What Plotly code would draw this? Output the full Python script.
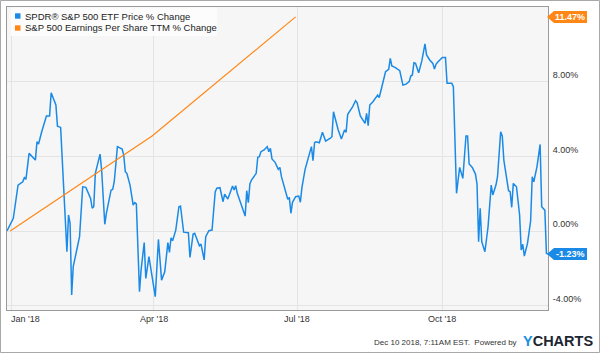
import plotly.graph_objects as go

# ---------------- data ----------------
price_dates = [
    "2017-12-29", "2018-01-02", "2018-01-05", "2018-01-08", "2018-01-09", "2018-01-10", "2018-01-12",
    "2018-01-16", "2018-01-17", "2018-01-18", "2018-01-20", "2018-01-23", "2018-01-25", "2018-01-26",
    "2018-01-29", "2018-01-30", "2018-02-01", "2018-02-03", "2018-02-05", "2018-02-06", "2018-02-07",
    "2018-02-08", "2018-02-09", "2018-02-13", "2018-02-15", "2018-02-17", "2018-02-20", "2018-02-21",
    "2018-02-22", "2018-02-23", "2018-02-26", "2018-02-27", "2018-03-01", "2018-03-02", "2018-03-05",
    "2018-03-06", "2018-03-07", "2018-03-09", "2018-03-12", "2018-03-13", "2018-03-14", "2018-03-15",
    "2018-03-17", "2018-03-19", "2018-03-20", "2018-03-21", "2018-03-23", "2018-03-24", "2018-03-26",
    "2018-03-27", "2018-03-29", "2018-04-02", "2018-04-04", "2018-04-06", "2018-04-08", "2018-04-10",
    "2018-04-11", "2018-04-12", "2018-04-13", "2018-04-15", "2018-04-17", "2018-04-18", "2018-04-20",
    "2018-04-23", "2018-04-24", "2018-04-26", "2018-04-27", "2018-04-30", "2018-05-01", "2018-05-03",
    "2018-05-04", "2018-05-06", "2018-05-08", "2018-05-10", "2018-05-11", "2018-05-13", "2018-05-15",
    "2018-05-16", "2018-05-18", "2018-05-21", "2018-05-22", "2018-05-23", "2018-05-24", "2018-05-29",
    "2018-05-30", "2018-05-31", "2018-06-01", "2018-06-02", "2018-06-05", "2018-06-06", "2018-06-07",
    "2018-06-08", "2018-06-10", "2018-06-12", "2018-06-13", "2018-06-14", "2018-06-15", "2018-06-17",
    "2018-06-19", "2018-06-20", "2018-06-21", "2018-06-25", "2018-06-26", "2018-06-27", "2018-06-28",
    "2018-06-30", "2018-07-02", "2018-07-03", "2018-07-04", "2018-07-06", "2018-07-09", "2018-07-10",
    "2018-07-11", "2018-07-12", "2018-07-13", "2018-07-15", "2018-07-17", "2018-07-19", "2018-07-22",
    "2018-07-23", "2018-07-24", "2018-07-27", "2018-07-29", "2018-07-31", "2018-08-01", "2018-08-02",
    "2018-08-05", "2018-08-07", "2018-08-08", "2018-08-10", "2018-08-13", "2018-08-14", "2018-08-15",
    "2018-08-16", "2018-08-18", "2018-08-19", "2018-08-21", "2018-08-22", "2018-08-24", "2018-08-26",
    "2018-08-28", "2018-08-29", "2018-08-30", "2018-09-01", "2018-09-04", "2018-09-05", "2018-09-06",
    "2018-09-08", "2018-09-10", "2018-09-11", "2018-09-12", "2018-09-13", "2018-09-14", "2018-09-16",
    "2018-09-18", "2018-09-20", "2018-09-21", "2018-09-23", "2018-09-25", "2018-09-26", "2018-09-27",
    "2018-09-28", "2018-10-01", "2018-10-03", "2018-10-04", "2018-10-07", "2018-10-08", "2018-10-10",
    "2018-10-12", "2018-10-14", "2018-10-16", "2018-10-17", "2018-10-18", "2018-10-20", "2018-10-22",
    "2018-10-23", "2018-10-24", "2018-10-25", "2018-10-26", "2018-10-28", "2018-10-30", "2018-11-01",
    "2018-11-02", "2018-11-04", "2018-11-05", "2018-11-07", "2018-11-08", "2018-11-09", "2018-11-12",
    "2018-11-13", "2018-11-14", "2018-11-15", "2018-11-17", "2018-11-19", "2018-11-20", "2018-11-21",
    "2018-11-22", "2018-11-24", "2018-11-26", "2018-11-27", "2018-11-28", "2018-11-30", "2018-12-02",
    "2018-12-03", "2018-12-05", "2018-12-06", "2018-12-07",
]
price_pct = [
    0.00, 0.68, 2.46, 2.64, 2.86, 2.77, 4.16,
    3.80, 4.78, 4.66, 5.32, 6.16, 6.16, 7.41,
    6.75, 5.62, 5.55, 2.02, -1.11, 0.86, 0.41,
    -3.43, -1.91, -0.30, 2.37, 2.34, 1.75, 1.22,
    1.30, 3.09, 4.12, 3.27, 0.36, 0.95, 2.20,
    2.23, 2.64, 4.52, 4.39, 4.07, 3.18, 3.09,
    2.46, 1.39, 1.52, 1.45, -3.25, -2.09, -0.62,
    -2.54, -1.37, -3.52, -0.45, -2.63, -2.18, -0.62,
    -1.14, -0.36, -0.52, 0.05, 1.30, 1.34, -0.06,
    -0.09, -1.41, -0.16, -0.12, -0.79, -0.70, -1.55,
    -0.30, 0.02, 0.05, 2.10, 2.29, 2.32, 1.57,
    1.98, 1.71, 2.41, 2.20, 2.43, 2.02, 0.80,
    2.16, 1.52, 2.52, 2.73, 3.09, 3.95, 3.98,
    4.25, 4.34, 4.52, 4.25, 4.43, 3.86, 3.68,
    3.30, 3.41, 2.91, 1.70, 1.80, 0.95, 1.54,
    1.84, 1.87, 1.54, 2.34, 3.30, 4.25, 4.52,
    3.77, 4.73, 4.78, 4.73, 5.29, 4.82, 4.97,
    5.05, 6.39, 5.41, 4.93, 5.41, 5.29, 6.25,
    6.63, 6.98, 6.87, 6.16, 5.77, 6.30, 5.64,
    6.75, 6.93, 7.07, 7.28, 7.15, 7.77, 8.53,
    8.66, 9.25, 8.84, 8.77, 8.59, 8.26, 7.82,
    7.87, 8.00, 8.30, 8.36, 9.01, 8.98, 8.48,
    9.11, 10.02, 9.43, 9.16, 8.98, 8.68, 8.93,
    9.04, 9.30, 9.30, 7.91, 7.91, 7.73, 2.02,
    3.41, 2.82, 5.09, 5.09, 3.59, 3.41, 3.05,
    2.52, -0.57, 1.22, -0.57, -1.11, 0.23, 2.46,
    1.93, 2.46, 2.91, 5.32, 5.09, 3.80, 2.16,
    2.11, 1.27, 2.55, 2.37, 0.86, -1.02, -0.71,
    -1.34, -0.66, 0.55, 2.91, 2.64, 3.44, 4.64,
    1.30, 1.12, -1.19, -1.23,
]

eps_dates = ["2017-12-31", "2018-03-31", "2018-06-30"]
eps_pct = [0.00, 5.09, 11.47]

series_names = ["SPDR® S&P 500 ETF Price % Change", "S&P 500 Earnings Per Share TTM % Change"]

x_tick_dates = ["2018-01-01", "2018-04-01", "2018-07-01", "2018-10-01"]
x_tick_labels = ["Jan '18", "Apr '18", "Jul '18", "Oct '18"]
y_tick_vals = [-4, 0, 4, 8]
y_tick_labels = ["-4.00%", "0.00%", "4.00%", "8.00%"]

footer_text = "Dec 10 2018, 7:11AM EST.  Powered by"

# ---------------- style ----------------
BLUE = "#1a8ae6"
ORANGE = "#ff8716"
FONT = "Liberation Sans, Arial, sans-serif"
W, H = 600, 353
L, R, T, B = 7, 52, 7, 43
PW, PH = W - L - R, H - T - B


def px_x(px):
    return (px - L) / PW


def px_y(py):
    return (H - B - py) / PH


fig = go.Figure()
fig.add_trace(go.Scatter(x=price_dates, y=price_pct, mode="lines", name=series_names[0],
                         line=dict(color=BLUE, width=1.5), hoverinfo="skip"))
fig.add_trace(go.Scatter(x=eps_dates, y=eps_pct, mode="lines", name=series_names[1],
                         line=dict(color=ORANGE, width=1.2), hoverinfo="skip"))

shapes = []
annotations = []

# outer frame
shapes.append(dict(type="rect", xref="paper", yref="paper", x0=px_x(0.5), x1=px_x(599.5),
                   y0=px_y(352.5), y1=px_y(0.5), line=dict(color="#a8a8a8", width=1), layer="above"))

# legend box
shapes.append(dict(type="rect", xref="paper", yref="paper", x0=px_x(11), x1=px_x(217),
                   y0=px_y(36), y1=px_y(7.5), fillcolor="#fcfcfc", line=dict(width=0), layer="above"))
for i, (col, yc) in enumerate([(BLUE, 16), (ORANGE, 28)]):
    shapes.append(dict(type="rect", xref="paper", yref="paper", x0=px_x(15), x1=px_x(20.5),
                       y0=px_y(yc + 2.7), y1=px_y(yc - 2.7), fillcolor=col, line=dict(width=0),
                       layer="above"))
    annotations.append(dict(text=series_names[i], xref="paper", yref="paper", x=px_x(23), y=px_y(yc),
                            xanchor="left", yanchor="middle", showarrow=False,
                            font=dict(family=FONT, size=9.5, color="#222")))

# value flags on the right
for dates, vals, col in [(price_dates, price_pct, BLUE), (eps_dates, eps_pct, ORANGE)]:
    v = vals[-1]
    shapes.append(dict(type="path", xref="paper", yref="y", xsizemode="pixel", ysizemode="pixel",
                       xanchor=1, yanchor=v, path="M -1,0 L 6,6 L 39,6 L 39,-6 L 6,-6 Z",
                       fillcolor=col, line=dict(width=0), layer="above"))
    annotations.append(dict(text=f"<b>{v:.2f}%</b>", xref="paper", yref="y", x=1, y=v,
                            xanchor="center", yanchor="middle", xshift=22, showarrow=False,
                            font=dict(family=FONT, size=9, color="white")))

# x tick labels
for i, (d, lab) in enumerate(zip(x_tick_dates, x_tick_labels)):
    annotations.append(dict(text=lab, xref="x", yref="paper", x=d, y=0, yanchor="top",
                            xanchor="left" if i == 0 else "center", xshift=-3 if i == 0 else 0,
                            yshift=-2, showarrow=False, font=dict(family=FONT, size=9, color="#333")))

# footer
annotations.append(dict(text=footer_text, xref="paper", yref="paper", x=px_x(519), y=px_y(342),
                        xanchor="right", yanchor="middle", showarrow=False,
                        font=dict(family=FONT, size=8, color="#333")))
annotations.append(dict(text="<b><span style='color:#1b8fe0'>Y</span>CHARTS</b>", xref="paper",
                        yref="paper", x=px_x(521), y=px_y(341), xanchor="left", yanchor="middle",
                        showarrow=False, font=dict(family=FONT, size=14.5, color="#1c2733")))

fig.update_layout(
    width=W, height=H, margin=dict(l=L, r=R, t=T, b=B, pad=0),
    paper_bgcolor="white", plot_bgcolor="#f6f6f6", showlegend=False,
    font=dict(family=FONT, size=9, color="#333"),
    shapes=shapes, annotations=annotations,
    xaxis=dict(type="date", range=[price_dates[0], price_dates[-1]], tickvals=x_tick_dates,
               showticklabels=False, showgrid=True, gridcolor="#e4e4e4", gridwidth=1,
               showline=True, linecolor="#9a9a9a", linewidth=1, mirror=True, zeroline=False, ticks=""),
    yaxis=dict(side="right", range=[-4.23, 12.0], tickvals=y_tick_vals, ticktext=y_tick_labels,
               showgrid=True, gridcolor="#e4e4e4", gridwidth=1, showline=True, linecolor="#9a9a9a",
               linewidth=1, mirror=True, zeroline=False, ticks="", ticklabelshift=-7,
               ticklabelstandoff=2, tickfont=dict(family=FONT, size=9, color="#333")),
)

fig.write_html("out.html")
